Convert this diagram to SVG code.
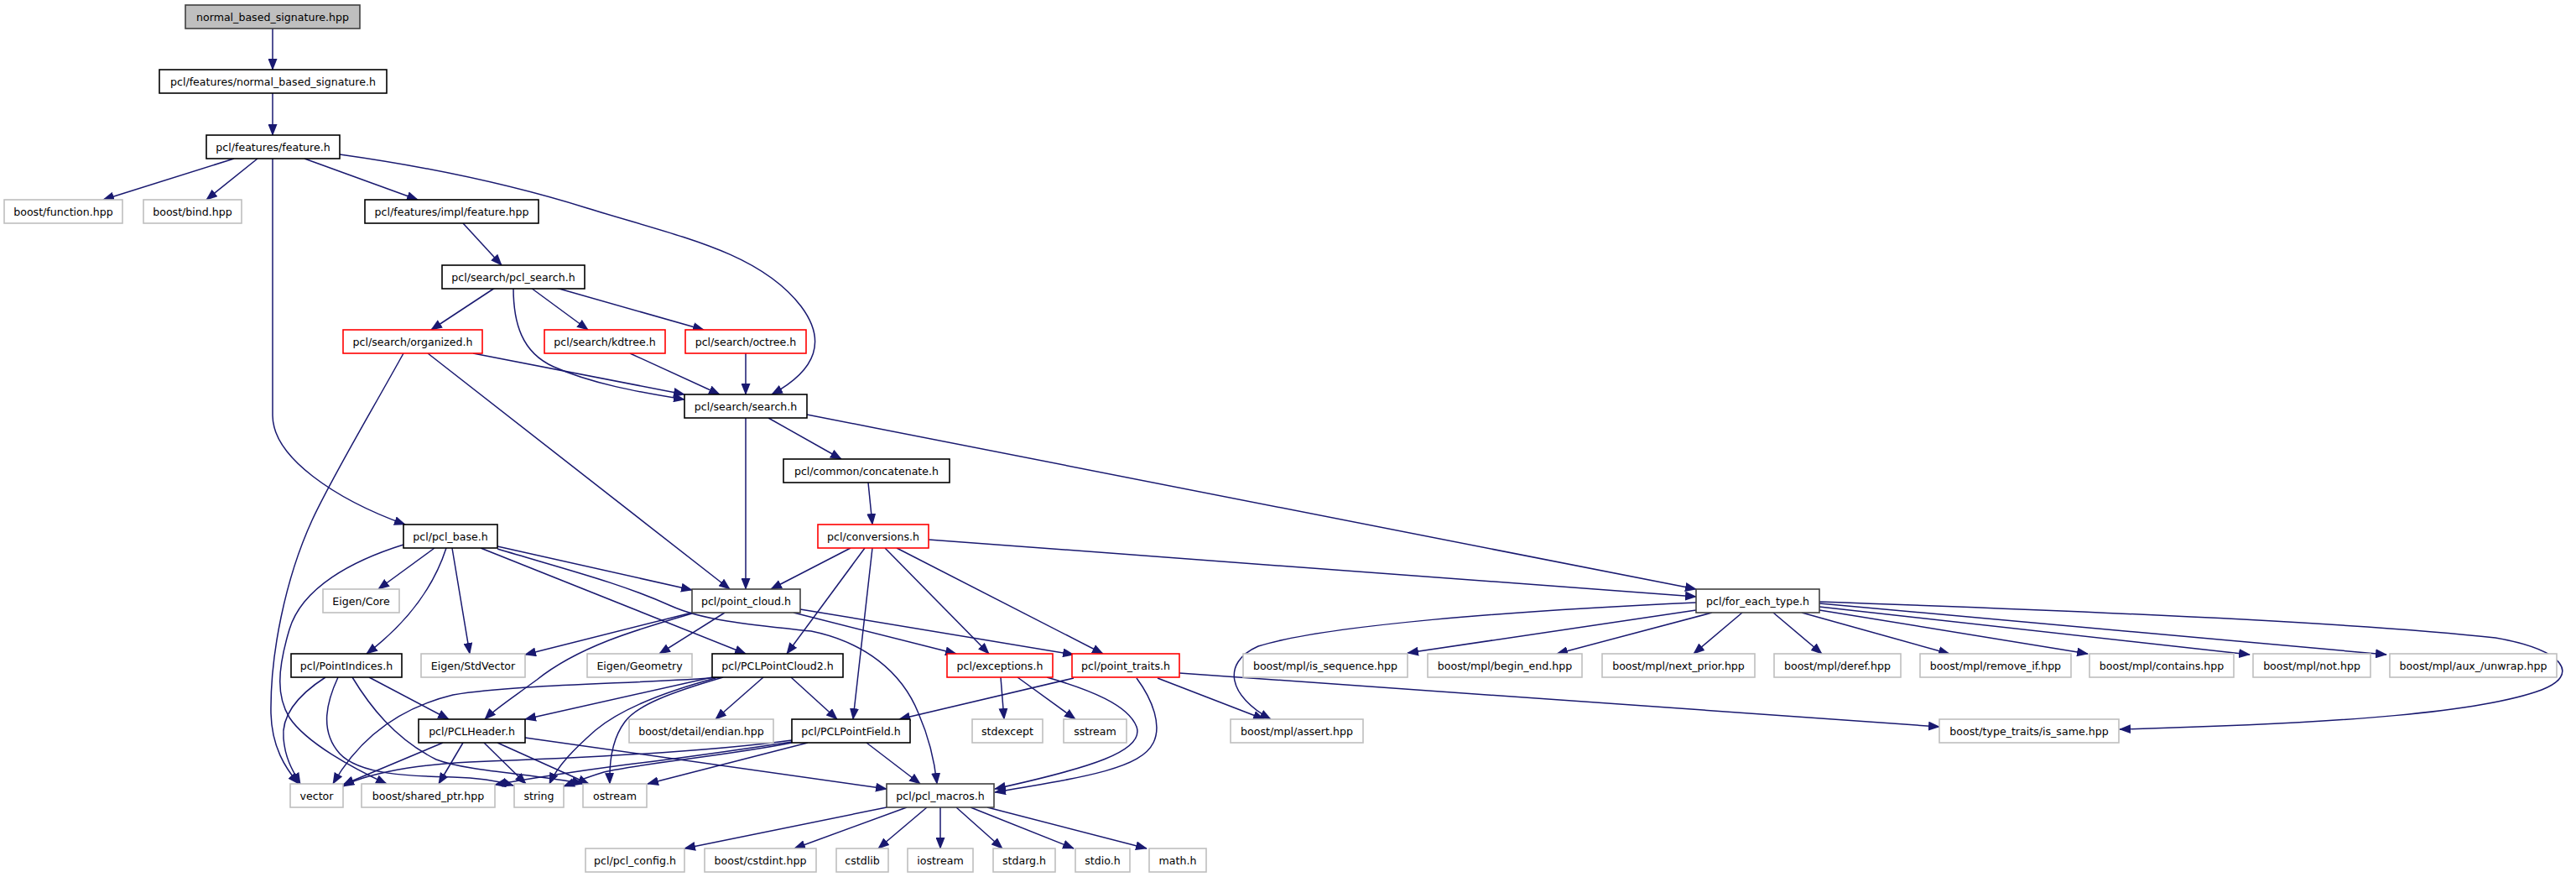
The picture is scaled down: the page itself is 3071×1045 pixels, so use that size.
<svg xmlns="http://www.w3.org/2000/svg" width="3071" height="1045" viewBox="0 0 3071 1045">
<style>
.node rect{fill:#fff;stroke:#000;stroke-width:1.6}
.node.g rect{stroke:#bfbfbf}
.node.r rect{stroke:#ff0000}
.node.d rect{stroke:#404040}
.node.root rect{fill:#bfbfbf;stroke:#404040}
.node text{font-family:"DejaVu Sans","Liberation Sans",sans-serif;font-size:12.6px;text-anchor:middle;fill:#000}
.edges path{fill:none;stroke:#191970;stroke-width:1.5;marker-end:url(#a)}
</style>
<defs>
<marker id="a" markerUnits="userSpaceOnUse" markerWidth="14" markerHeight="11" viewBox="0 0 14 11" refX="13" refY="5.5" orient="auto"><path d="M0,0 L14,5.5 L0,11 z" fill="#191970"/></marker>
</defs>
<rect width="3071" height="1045" fill="#fff"/>
<g class="edges">
<path d="M325,34 L325,83"/>
<path d="M325,111 L325,161"/>
<path d="M279,189 L123,238"/>
<path d="M307,189 L246,238"/>
<path d="M325,189 C325,260 325,430 325,495 C325,545 400,595 483,625"/>
<path d="M363,189 L498,238"/>
<path d="M405,184 C505,198 610,220 700,248 C810,282 905,300 955,365 C985,405 975,440 920,470"/>
<path d="M552,266 L598,316"/>
<path d="M590,343 L514,393"/>
<path d="M612,343 C612,385 622,420 660,437 C705,457 760,467 816,476"/>
<path d="M633,343 L701,393"/>
<path d="M663,343 L839,393"/>
<path d="M564,421 L816,470"/>
<path d="M510,421 L870,702"/>
<path d="M481,421 C440,495 395,570 372,620 C340,690 322,780 323,850 C324,890 340,915 356,934"/>
<path d="M751,421 L858,470"/>
<path d="M889,421 L889,470"/>
<path d="M889,498 L889,702"/>
<path d="M916,498 L1003,547"/>
<path d="M962,494 L2022,702"/>
<path d="M1035,575 L1040,625"/>
<path d="M1014,653 L919,702"/>
<path d="M1031,653 L938,779"/>
<path d="M1040,653 L1017,857"/>
<path d="M1055,653 L1179,779"/>
<path d="M1069,653 L1315,779"/>
<path d="M1107,643 L2022,711"/>
<path d="M481,649 C420,668 360,700 345,750 C330,800 330,830 345,855 C365,885 420,915 461,934"/>
<path d="M518,653 L451,702"/>
<path d="M532,653 C520,690 495,735 437,779"/>
<path d="M539,653 L560,779"/>
<path d="M573,653 L889,779"/>
<path d="M593,651 L825,703"/>
<path d="M593,654 C680,680 740,695 800,722 C840,740 900,745 967,752 C1030,765 1075,800 1095,850 C1108,880 1114,905 1117,934"/>
<path d="M825,730 L626,780"/>
<path d="M825,731 C760,750 690,770 640,810 C610,832 590,845 578,857"/>
<path d="M864,730 L786,779"/>
<path d="M946,730 L1140,779"/>
<path d="M954,726 L1280,780"/>
<path d="M388,807 C360,825 335,850 338,880 C340,905 350,920 358,934"/>
<path d="M403,807 C390,835 380,870 405,898 C430,925 500,925 540,926 C575,927 595,931 612,936"/>
<path d="M420,807 C440,840 470,880 520,905 C560,920 640,922 695,934"/>
<path d="M440,807 L535,857"/>
<path d="M860,807 C760,815 620,815 540,828 C470,845 425,885 397,934"/>
<path d="M849,807 L626,857"/>
<path d="M853,808 C790,825 740,845 710,870 C685,892 665,912 655,934"/>
<path d="M862,807 C800,825 760,840 745,860 C730,880 726,905 727,934"/>
<path d="M910,807 L853,857"/>
<path d="M943,807 L998,857"/>
<path d="M528,885 L409,935"/>
<path d="M552,885 L523,934"/>
<path d="M577,885 L627,934"/>
<path d="M593,885 L702,934"/>
<path d="M626,879 L1057,940"/>
<path d="M944,882 C850,895 700,903 560,908 C480,912 430,925 409,937"/>
<path d="M944,884 C870,895 800,905 740,912 C680,920 630,928 590,935"/>
<path d="M944,885 C870,900 760,910 720,920 C700,926 690,930 672,937"/>
<path d="M963,885 L772,934"/>
<path d="M1033,885 L1097,934"/>
<path d="M1193,807 L1197,857"/>
<path d="M1213,807 L1282,857"/>
<path d="M1248,807 C1300,822 1345,840 1355,866 C1365,895 1300,915 1186,940"/>
<path d="M1280,808 L1072,857"/>
<path d="M1355,808 C1375,835 1385,865 1375,885 C1360,915 1300,925 1186,944"/>
<path d="M1380,808 L1507,857"/>
<path d="M1406,802 L2312,866"/>
<path d="M2022,727 L1678,778"/>
<path d="M2041,730 L1856,779"/>
<path d="M2077,730 L2019,779"/>
<path d="M2114,730 L2172,779"/>
<path d="M2148,730 L2324,779"/>
<path d="M2169,727 L2489,779"/>
<path d="M2169,723 L2682,780"/>
<path d="M2169,719 L2845,780"/>
<path d="M2169,717 C2400,725 2800,740 2975,760 C3060,775 3075,805 3030,822 C2960,848 2800,862 2527,869"/>
<path d="M2022,718 C1800,728 1580,745 1500,770 C1455,790 1465,830 1515,857"/>
<path d="M1057,962 L816,1011"/>
<path d="M1081,962 L947,1011"/>
<path d="M1105,962 L1047,1011"/>
<path d="M1121,962 L1121,1011"/>
<path d="M1140,962 L1195,1011"/>
<path d="M1157,962 L1280,1011"/>
<path d="M1177,962 L1367,1011"/>
</g>
<g id="n1" class="node root"><rect x="221" y="6" width="208" height="28"/><text x="325" y="24.5">normal_based_signature.hpp</text></g>
<g id="n2" class="node"><rect x="190" y="83" width="271" height="28"/><text x="325.5" y="101.5">pcl/features/normal_based_signature.h</text></g>
<g id="n3" class="node"><rect x="246" y="161" width="159" height="28"/><text x="325.5" y="179.5">pcl/features/feature.h</text></g>
<g id="n4" class="node g"><rect x="5" y="238" width="141" height="28"/><text x="75.5" y="256.5">boost/function.hpp</text></g>
<g id="n5" class="node g"><rect x="171" y="238" width="117" height="28"/><text x="229.5" y="256.5">boost/bind.hpp</text></g>
<g id="n6" class="node"><rect x="435" y="238" width="207" height="28"/><text x="538.5" y="256.5">pcl/features/impl/feature.hpp</text></g>
<g id="n7" class="node"><rect x="527" y="316" width="170" height="28"/><text x="612" y="334.5">pcl/search/pcl_search.h</text></g>
<g id="n8" class="node r"><rect x="409" y="393" width="166" height="28"/><text x="492" y="411.5">pcl/search/organized.h</text></g>
<g id="n9" class="node r"><rect x="649" y="393" width="144" height="28"/><text x="721" y="411.5">pcl/search/kdtree.h</text></g>
<g id="n10" class="node r"><rect x="817" y="393" width="144" height="28"/><text x="889" y="411.5">pcl/search/octree.h</text></g>
<g id="n11" class="node"><rect x="816" y="470" width="146" height="28"/><text x="889" y="488.5">pcl/search/search.h</text></g>
<g id="n12" class="node"><rect x="934" y="547" width="198" height="28"/><text x="1033" y="565.5">pcl/common/concatenate.h</text></g>
<g id="n13" class="node"><rect x="481" y="625" width="112" height="28"/><text x="537" y="643.5">pcl/pcl_base.h</text></g>
<g id="n14" class="node r"><rect x="975" y="625" width="132" height="28"/><text x="1041" y="643.5">pcl/conversions.h</text></g>
<g id="n15" class="node g"><rect x="385" y="702" width="91" height="28"/><text x="430.5" y="720.5">Eigen/Core</text></g>
<g id="n16" class="node d"><rect x="825" y="702" width="129" height="28"/><text x="889.5" y="720.5">pcl/point_cloud.h</text></g>
<g id="n17" class="node d"><rect x="2022" y="702" width="147" height="28"/><text x="2095.5" y="720.5">pcl/for_each_type.h</text></g>
<g id="n18" class="node"><rect x="347" y="779" width="132" height="28"/><text x="413" y="797.5">pcl/PointIndices.h</text></g>
<g id="n19" class="node g"><rect x="502" y="779" width="124" height="28"/><text x="564" y="797.5">Eigen/StdVector</text></g>
<g id="n20" class="node g"><rect x="700" y="779" width="125" height="28"/><text x="762.5" y="797.5">Eigen/Geometry</text></g>
<g id="n21" class="node"><rect x="849" y="779" width="156" height="28"/><text x="927" y="797.5">pcl/PCLPointCloud2.h</text></g>
<g id="n22" class="node r"><rect x="1129" y="779" width="126" height="28"/><text x="1192" y="797.5">pcl/exceptions.h</text></g>
<g id="n23" class="node r"><rect x="1278" y="779" width="128" height="28"/><text x="1342" y="797.5">pcl/point_traits.h</text></g>
<g id="n24" class="node g"><rect x="1482" y="779" width="196" height="28"/><text x="1580" y="797.5">boost/mpl/is_sequence.hpp</text></g>
<g id="n25" class="node g"><rect x="1702" y="779" width="184" height="28"/><text x="1794" y="797.5">boost/mpl/begin_end.hpp</text></g>
<g id="n26" class="node g"><rect x="1910" y="779" width="182" height="28"/><text x="2001" y="797.5">boost/mpl/next_prior.hpp</text></g>
<g id="n27" class="node g"><rect x="2115" y="779" width="151" height="28"/><text x="2190.5" y="797.5">boost/mpl/deref.hpp</text></g>
<g id="n28" class="node g"><rect x="2289" y="779" width="180" height="28"/><text x="2379" y="797.5">boost/mpl/remove_if.hpp</text></g>
<g id="n29" class="node g"><rect x="2491" y="779" width="172" height="28"/><text x="2577" y="797.5">boost/mpl/contains.hpp</text></g>
<g id="n30" class="node g"><rect x="2686" y="779" width="140" height="28"/><text x="2756" y="797.5">boost/mpl/not.hpp</text></g>
<g id="n31" class="node g"><rect x="2849" y="779" width="199" height="28"/><text x="2948.5" y="797.5">boost/mpl/aux_/unwrap.hpp</text></g>
<g id="n32" class="node"><rect x="499" y="857" width="127" height="28"/><text x="562.5" y="875.5">pcl/PCLHeader.h</text></g>
<g id="n33" class="node g"><rect x="750" y="857" width="172" height="28"/><text x="836" y="875.5">boost/detail/endian.hpp</text></g>
<g id="n34" class="node"><rect x="944" y="857" width="141" height="28"/><text x="1014.5" y="875.5">pcl/PCLPointField.h</text></g>
<g id="n35" class="node g"><rect x="1159" y="857" width="84" height="28"/><text x="1201" y="875.5">stdexcept</text></g>
<g id="n36" class="node g"><rect x="1268" y="857" width="75" height="28"/><text x="1305.5" y="875.5">sstream</text></g>
<g id="n37" class="node g"><rect x="1467" y="857" width="158" height="28"/><text x="1546" y="875.5">boost/mpl/assert.hpp</text></g>
<g id="n38" class="node g"><rect x="2312" y="857" width="214" height="28"/><text x="2419" y="875.5">boost/type_traits/is_same.hpp</text></g>
<g id="n39" class="node g"><rect x="346" y="934" width="63" height="28"/><text x="377.5" y="952.5">vector</text></g>
<g id="n40" class="node g"><rect x="431" y="934" width="159" height="28"/><text x="510.5" y="952.5">boost/shared_ptr.hpp</text></g>
<g id="n41" class="node g"><rect x="613" y="934" width="59" height="28"/><text x="642.5" y="952.5">string</text></g>
<g id="n42" class="node g"><rect x="695" y="934" width="76" height="28"/><text x="733" y="952.5">ostream</text></g>
<g id="n43" class="node d"><rect x="1057" y="934" width="128" height="28"/><text x="1121" y="952.5">pcl/pcl_macros.h</text></g>
<g id="n44" class="node g"><rect x="698" y="1011" width="118" height="28"/><text x="757" y="1029.5">pcl/pcl_config.h</text></g>
<g id="n45" class="node g"><rect x="840" y="1011" width="133" height="28"/><text x="906.5" y="1029.5">boost/cstdint.hpp</text></g>
<g id="n46" class="node g"><rect x="997" y="1011" width="62" height="28"/><text x="1028" y="1029.5">cstdlib</text></g>
<g id="n47" class="node g"><rect x="1082" y="1011" width="78" height="28"/><text x="1121" y="1029.5">iostream</text></g>
<g id="n48" class="node g"><rect x="1184" y="1011" width="74" height="28"/><text x="1221" y="1029.5">stdarg.h</text></g>
<g id="n49" class="node g"><rect x="1282" y="1011" width="65" height="28"/><text x="1314.5" y="1029.5">stdio.h</text></g>
<g id="n50" class="node g"><rect x="1370" y="1011" width="68" height="28"/><text x="1404" y="1029.5">math.h</text></g>
</svg>
